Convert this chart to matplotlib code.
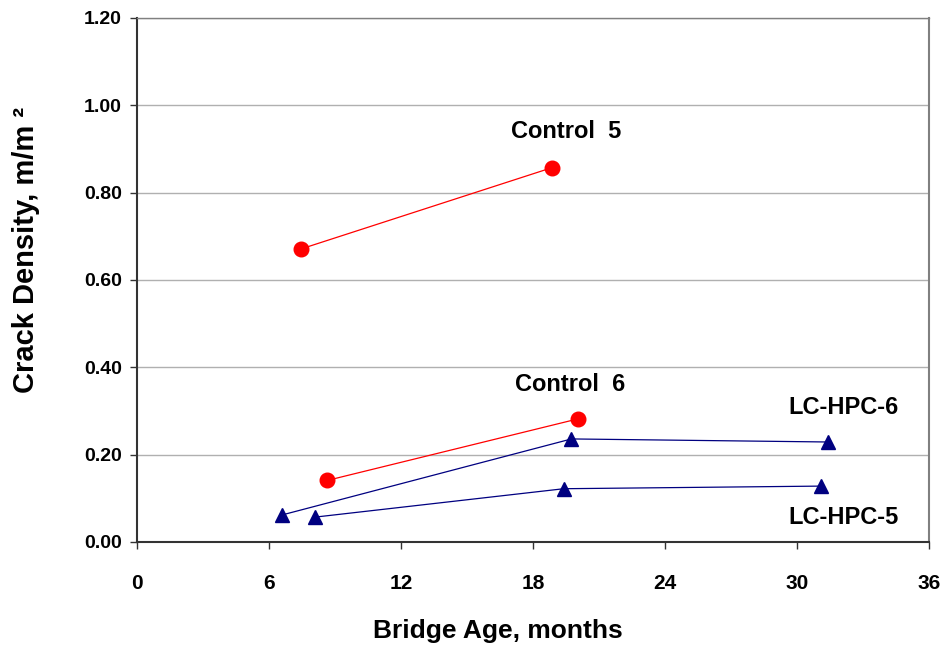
import matplotlib

matplotlib.use("Agg")
import matplotlib.pyplot as plt

# bridge age (months) and crack density (m/m^2)
control5_age = [7.45, 18.85]
control5_density = [0.671, 0.857]
control6_age = [8.65, 20.05]
control6_density = [0.141, 0.282]
lchpc6_age = [6.6, 19.75, 31.4]
lchpc6_density = [0.062, 0.236, 0.229]
lchpc5_age = [8.1, 19.4, 31.1]
lchpc5_density = [0.057, 0.122, 0.128]

x_ticks = [0, 6, 12, 18, 24, 30, 36]
y_ticks = [0.0, 0.2, 0.4, 0.6, 0.8, 1.0, 1.2]

plt.rcParams["font.family"] = ["Liberation Sans", "DejaVu Sans"]

fig = plt.figure(figsize=(9.44, 6.47), dpi=100)
ax = fig.add_axes([0.1451, 0.1623, 0.839, 0.8099])

red = "#ff0000"
navy = "#000080"
ax.plot(control5_age, control5_density, color=red, linewidth=0.9,
        marker="o", markersize=10.5, zorder=3)
ax.plot(control6_age, control6_density, color=red, linewidth=0.9,
        marker="o", markersize=10.5, zorder=3)
ax.plot(lchpc6_age, lchpc6_density, color=navy, linewidth=0.9,
        marker="^", markersize=10.5, zorder=3)
ax.plot(lchpc5_age, lchpc5_density, color=navy, linewidth=0.9,
        marker="^", markersize=10.5, zorder=3)

label_kw = dict(fontsize=17, fontweight="bold", ha="center", va="center")
ax.text(19.5, 0.941, "Control  5", **label_kw)
ax.text(19.7, 0.36, "Control  6", **label_kw)
ax.text(32.1, 0.307, "LC-HPC-6", **label_kw)
ax.text(32.1, 0.057, "LC-HPC-5", **label_kw)

ax.set_xlim(0, 36)
ax.set_ylim(0, 1.2)
ax.set_xticks(x_ticks)
ax.set_yticks(y_ticks)
ax.set_yticklabels([f"{v:.2f}" for v in y_ticks], fontsize=14, fontweight="bold")
ax.set_xticklabels([str(v) for v in x_ticks], fontsize=15, fontweight="bold")
ax.tick_params(axis="both", direction="out", length=5, width=1, color="#333333")
ax.tick_params(axis="x", pad=18)
ax.tick_params(axis="y", pad=6)

ax.yaxis.grid(True, color="#b0b0b0", linewidth=1)
ax.set_axisbelow(True)
for side in ("left", "bottom"):
    ax.spines[side].set_color("#333333")
    ax.spines[side].set_linewidth(1.5)
ax.spines["right"].set_color("#808080")
ax.spines["right"].set_linewidth(1.5)
ax.spines["top"].set_color("#808080")
ax.spines["top"].set_linewidth(1)

fig.text(498 / 944, 1 - 631 / 647, "Bridge Age, months", fontsize=19,
         fontweight="bold", ha="center", va="center")
fig.text(26 / 944, 1 - 250 / 647, "Crack Density, m/m \u00b2", fontsize=21,
         fontweight="bold", ha="center", va="center", rotation=90)

fig.savefig("out.png", dpi=100)
